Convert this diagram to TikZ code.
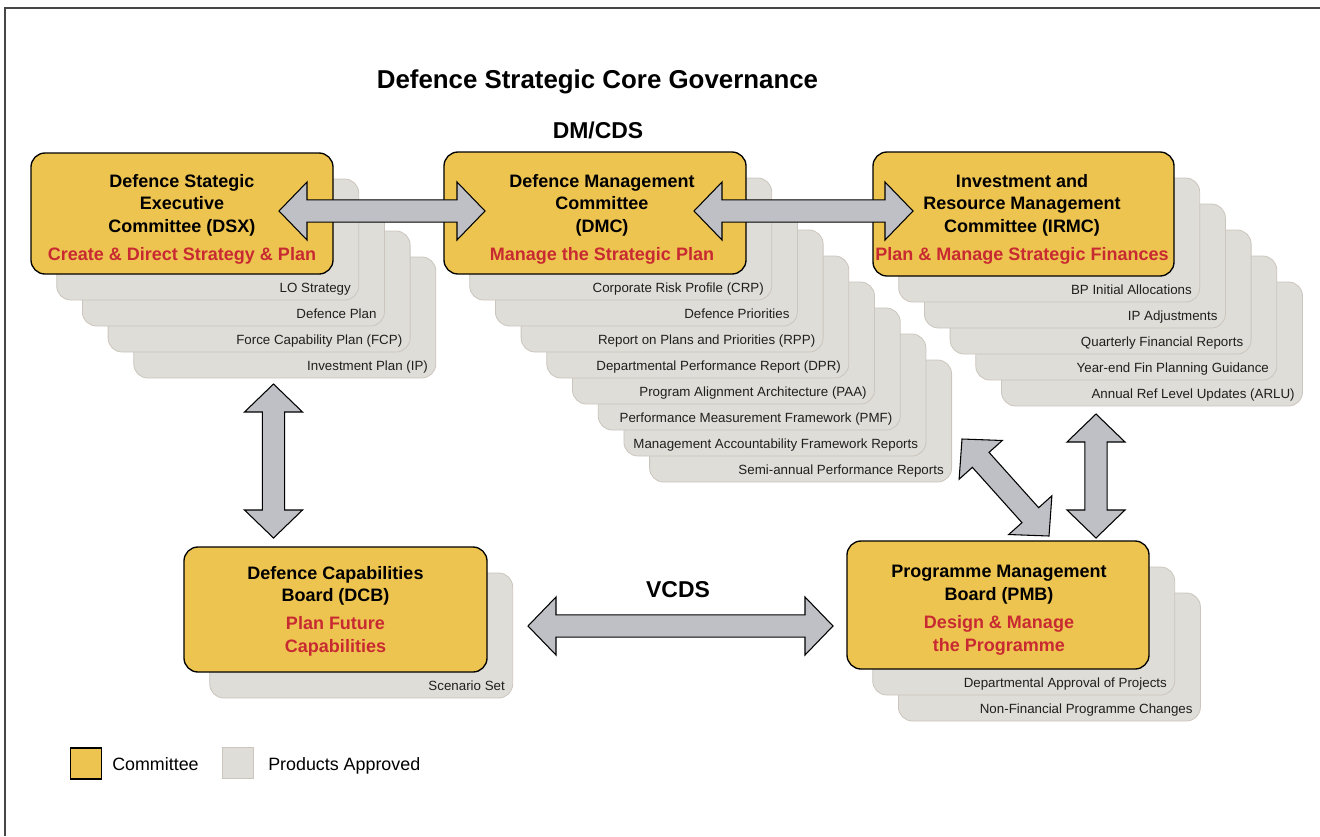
\documentclass[tikz,border=0pt]{standalone}
\usepackage{fontspec}
\setmainfont{Liberation Sans}
\usetikzlibrary{calc}

\definecolor{committeefill}{RGB}{238,196,80}
\definecolor{cardfill}{RGB}{222,221,215}
\definecolor{cardline}{RGB}{204,197,189}
\definecolor{arrowfill}{RGB}{190,192,197}
\definecolor{accent}{RGB}{200,42,50}
\definecolor{framegray}{RGB}{70,70,70}

% block-arrow geometry
\def\ahl{21pt}   % head length
\def\ahw{21.75pt}% head half width
\def\asw{8.4pt}  % shaft half width

% stack of product cards behind a committee box
% #1 name, #2 cx, #3 cy, #4 w, #5 h, #6 list index/text (back to front)
\newcommand\cardstack[6]{%
  \foreach \i/\t in {#6}{%
    \node[card, minimum width={#4*0.75pt}, minimum height={#5*0.75pt}]
      (#1-c\i) at ({#2+\i*25.7}, {#3+\i*26}) {};
    \node[cardtext, anchor=base east] (#1-t\i)
      at ($(#1-c\i.south east)+(-8,-7.5)$) {\t};
  }%
}

% committee box with its text block
% #1 name, #2 cx, #3 cy, #4 w, #5 h, #6 text dx, #7 text dy, #8 text
\newcommand\committee[8]{%
  \node[committee, minimum width={#4*0.75pt}, minimum height={#5*0.75pt}]
    (#1) at (#2,#3) {};
  \node[ctext, anchor=north] (#1-text) at ($(#1.north)+(#6,#7)$) {#8};
}

% double-headed block arrow between two named points
\newcommand\dblarrow[2]{%
  \draw[blockarrow] let \p1=(#1), \p2=(#2), \n1={atan2(\y2-\y1,\x2-\x1)} in
    (\p1)
    -- ($(\p1)+(\n1:\ahl)+(\n1+90:\ahw)$)
    -- ($(\p1)+(\n1:\ahl)+(\n1+90:\asw)$)
    -- ($(\p2)+(\n1+180:\ahl)+(\n1+90:\asw)$)
    -- ($(\p2)+(\n1+180:\ahl)+(\n1+90:\ahw)$)
    -- (\p2)
    -- ($(\p2)+(\n1+180:\ahl)+(\n1-90:\ahw)$)
    -- ($(\p2)+(\n1+180:\ahl)+(\n1-90:\asw)$)
    -- ($(\p1)+(\n1:\ahl)+(\n1-90:\asw)$)
    -- ($(\p1)+(\n1:\ahl)+(\n1-90:\ahw)$)
    -- cycle;
}

\begin{document}
\begin{tikzpicture}[x=0.75pt, y=-0.75pt,
  committee/.style={draw=black, line width=1pt, fill=committeefill,
    rounded corners=10.5pt, inner sep=0pt},
  card/.style={draw=cardline, line width=0.6pt, fill=cardfill,
    rounded corners=10.5pt, inner sep=0pt},
  cardtext/.style={inner sep=0pt, text=black!88,
    font=\fontsize{10}{12}\selectfont},
  ctext/.style={inner sep=0pt, align=center,
    font=\bfseries\fontsize{13.5}{17}\selectfont},
  blockarrow/.style={draw=black, line width=0.8pt, fill=arrowfill,
    line join=miter},
  heading/.style={inner sep=0pt, font=\bfseries\fontsize{19.4}{23}\selectfont},
  subhead/.style={inner sep=0pt, font=\bfseries\fontsize{17.2}{20}\selectfont},
  legendtext/.style={inner sep=0pt, anchor=base west,
    font=\fontsize{13.4}{16}\selectfont},
  legendbox/.style={minimum width=23.25pt, minimum height=23.25pt,
    inner sep=0pt}
]
\useasboundingbox (0,0) rectangle (1320,836);

% outer frame (top and left edges)
\draw[framegray, line width=1.5pt] (5,836) -- (5,8) -- (1320,8);

% headings
\node[heading] (title) at (597.5,81.5) {Defence Strategic Core Governance};
\node[subhead] (dmcds) at (598,130) {DM/CDS};
\node[subhead] (vcds) at (678,590) {VCDS};

% Defence Strategic Executive Committee
\cardstack{dsx}{182}{213.5}{302}{121}{4/Investment Plan (IP),
  3/Force Capability Plan (FCP), 2/Defence Plan, 1/LO Strategy}
\committee{dsx}{182}{213.5}{302}{121}{0}{21.5}{Defence Stategic\\Executive\\
  Committee (DSX)\\[4pt]\textcolor{accent}{Create \& Direct Strategy \& Plan}}

% Defence Management Committee
\cardstack{dmc}{595}{213}{302}{122}{8/Semi-annual Performance Reports,
  7/Management Accountability Framework Reports,
  6/Performance Measurement Framework (PMF),
  5/Program Alignment Architecture (PAA),
  4/Departmental Performance Report (DPR),
  3/Report on Plans and Priorities (RPP),
  2/Defence Priorities, 1/Corporate Risk Profile (CRP)}
\committee{dmc}{595}{213}{302}{122}{7}{22.5}{Defence Management\\Committee\\
  (DMC)\\[4pt]\textcolor{accent}{Manage the Strategic Plan}}

% Investment and Resource Management Committee
\cardstack{irmc}{1023.5}{214}{301}{124}{5/Annual Ref Level Updates (ARLU),
  4/Year-end Fin Planning Guidance, 3/Quarterly Financial Reports,
  2/IP Adjustments, 1/BP Initial Allocations}
\committee{irmc}{1023.5}{214}{301}{124}{-1.5}{22.5}{Investment and\\
  Resource Management\\Committee (IRMC)\\[4pt]%
  \textcolor{accent}{Plan \& Manage Strategic Finances}}

% Defence Capabilities Board
\cardstack{dcb}{335.5}{609.5}{303}{125}{1/Scenario Set}
\committee{dcb}{335.5}{609.5}{303}{125}{0}{19.5}{Defence Capabilities\\
  Board (DCB)\\[4pt]\textcolor{accent}{Plan Future}\\
  \textcolor{accent}{Capabilities}}

% Programme Management Board
\cardstack{pmb}{998}{605}{302}{128}{2/Non-Financial Programme Changes,
  1/Departmental Approval of Projects}
\committee{pmb}{998}{605}{302}{128}{1}{25}{Programme Management\\
  Board (PMB)\\[4pt]\textcolor{accent}{Design \& Manage}\\
  \textcolor{accent}{the Programme}}

% arrow end points
\coordinate (dsx-dmc-a) at (279,211);
\coordinate (dsx-dmc-b) at (485,211);
\coordinate (dmc-irmc-a) at (694,211);
\coordinate (dmc-irmc-b) at (913,211);
\coordinate (dsx-dcb-a) at (273.5,384);
\coordinate (dsx-dcb-b) at (273.5,538);
\coordinate (dcb-pmb-a) at (528,626);
\coordinate (dcb-pmb-b) at (833,626);
\coordinate (irmc-pmb-a) at (1096,414);
\coordinate (irmc-pmb-b) at (1096,538);
\coordinate (dmc-pmb-a) at (962,439);
\coordinate (dmc-pmb-b) at (1049,536);

% relationships
\dblarrow{dsx-dmc-a}{dsx-dmc-b}
\dblarrow{dmc-irmc-a}{dmc-irmc-b}
\dblarrow{dsx-dcb-a}{dsx-dcb-b}
\dblarrow{dcb-pmb-a}{dcb-pmb-b}
\dblarrow{irmc-pmb-a}{irmc-pmb-b}
\dblarrow{dmc-pmb-a}{dmc-pmb-b}

% legend
\node[legendbox, draw=black, line width=1pt, fill=committeefill]
  (leg-committee) at (86,763.5) {};
\node[legendtext] (leg-committee-text) at (112,770) {Committee};
\node[legendbox, draw=cardline, line width=0.6pt, fill=cardfill]
  (leg-product) at (237.5,763) {};
\node[legendtext] (leg-product-text) at (268,770) {Products Approved};
\end{tikzpicture}
\end{document}
